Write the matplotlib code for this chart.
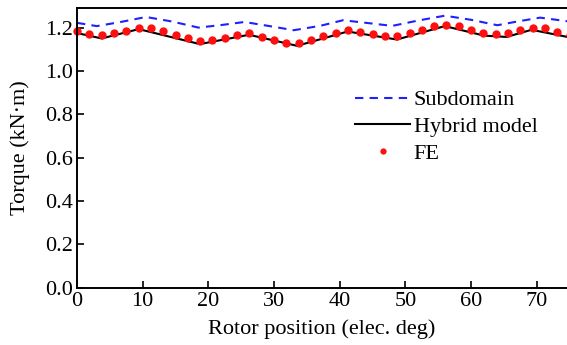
import matplotlib
matplotlib.use("Agg")
import matplotlib.pyplot as plt

plt.rcParams['font.family'] = ['Liberation Serif', 'DejaVu Serif']
plt.rcParams['font.size'] = 16

# Subdomain (blue dashed)
sub_x = [0, 3, 6.5, 10.5, 14.5, 18.5, 22, 25.5, 29.5, 33, 37, 40.5, 44, 48, 52, 56, 60, 64, 67, 70.5, 75]
sub_y = [1.222, 1.207, 1.225, 1.249, 1.228, 1.200, 1.212, 1.226, 1.206, 1.188, 1.208, 1.234, 1.222, 1.208, 1.233, 1.255, 1.236, 1.211, 1.228, 1.246, 1.228]

# Hybrid model (black solid)
hyb_x = [0, 3.75, 9.4, 18.7, 26.2, 33.5, 41.2, 48.7, 56.0, 62.0, 65.4, 69.2, 75]
hyb_y = [1.175, 1.150, 1.193, 1.124, 1.167, 1.116, 1.182, 1.145, 1.207, 1.163, 1.157, 1.190, 1.155]

# FE (red dots)
fe_x = [0, 1.875, 3.75, 5.625, 7.5, 9.375, 11.25, 13.125, 15, 16.875,
        18.75, 20.625, 22.5, 24.375, 26.25, 28.125, 30, 31.875, 33.75, 35.625,
        37.5, 39.375, 41.25, 43.125, 45, 46.875, 48.75, 50.625, 52.5, 54.375,
        56.25, 58.125, 60, 61.875, 63.75, 65.625, 67.5, 69.375, 71.25, 73.125, 75]
fe_y = [1.185, 1.170, 1.165, 1.176, 1.185, 1.199, 1.196, 1.183, 1.165, 1.154,
        1.139, 1.142, 1.154, 1.165, 1.173, 1.157, 1.145, 1.131, 1.131, 1.143,
        1.162, 1.177, 1.188, 1.180, 1.170, 1.160, 1.160, 1.173, 1.188, 1.206,
        1.214, 1.206, 1.191, 1.176, 1.170, 1.173, 1.188, 1.199, 1.196, 1.180, 1.165]

xticks = [0, 10, 20, 30, 40, 50, 60, 70]
yticks = [0.0, 0.2, 0.4, 0.6, 0.8, 1.0, 1.2]

fig = plt.figure(figsize=(5.67, 3.45), dpi=100)
ax = fig.add_axes([0.1358, 0.1658, 0.8642, 0.8101])

ax.plot(sub_x, sub_y, color='#1f1fff', lw=1.5, dashes=(4, 3), label='Subdomain')
ax.plot(hyb_x, hyb_y, color='black', lw=1.5, label='Hybrid model')
ax.plot(fe_x, fe_y, 'o', color='#ff1010', ms=6, mec='none', label='FE', clip_on=False)

ax.set_xlim(0, 74.6)
ax.set_ylim(0, 1.289)
ax.set_xticks(xticks)
ax.set_yticks(yticks)
ax.set_yticklabels([f'{v:.1f}' for v in yticks])
ax.tick_params(direction='in', length=5, width=1.2, pad=3)
for s in ['left', 'bottom', 'top']:
    ax.spines[s].set_linewidth(1.4)
ax.spines['right'].set_visible(False)

ax.set_xlabel('Rotor position (elec. deg)', labelpad=6)
ax.set_ylabel('Torque (kN·m)', labelpad=11)

ax.legend(loc='upper left', bbox_to_anchor=(0.567, 0.708), frameon=False,
          borderpad=0, borderaxespad=0, handlelength=2.5, handletextpad=0.15,
          labelspacing=0.28, numpoints=1, markerscale=0.75)

fig.savefig('out.png', dpi=100)
